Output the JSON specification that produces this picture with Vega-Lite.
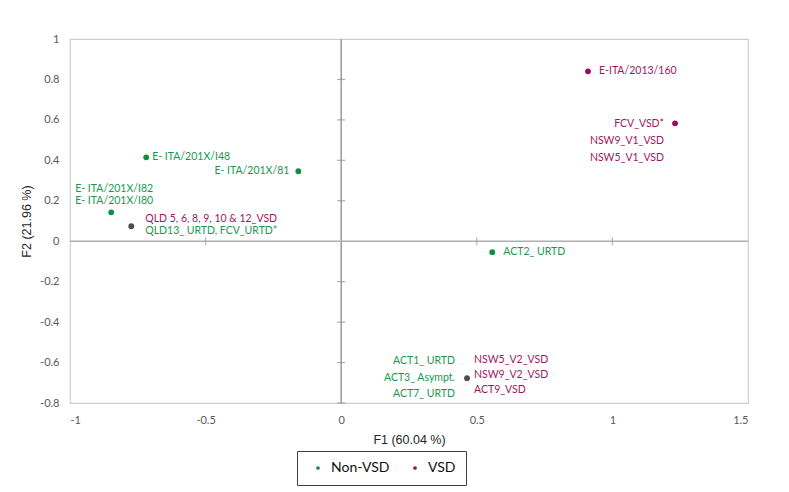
{
  "$schema": "https://vega.github.io/schema/vega-lite/v6.json",
  "width": 678,
  "height": 364,
  "autosize": {"type": "none"},
  "padding": {"left": 70, "top": 39, "right": 41, "bottom": 89},
  "background": "white",
  "config": {
    "view": {"stroke": "#cfcfcf", "strokeWidth": 1.2},
    "axis": {
      "domain": false, "ticks": false, "grid": false,
      "labelFont": "Lato", "labelFontSize": 11, "labelColor": "#595959",
      "titleFont": "Liberation Sans", "titleFontSize": 12.5, "titleFontWeight": "normal", "titleColor": "#262626"
    },
    "text": {"font": "Lato", "fontSize": 10.5, "lineBreak": "\n"}
  },
  "datasets": {
    "pts": [
      {"name": "E- ITA/201X/I48", "x": -0.719, "y": 0.415, "group": "Non-VSD"},
      {"name": "E- ITA/201X/81", "x": -0.158, "y": 0.346, "group": "Non-VSD"},
      {"name": "E- ITA/201X/I82, I80", "x": -0.848, "y": 0.143, "group": "Non-VSD"},
      {"name": "QLD group", "x": -0.774, "y": 0.074, "group": "Mixed"},
      {"name": "E-ITA/2013/160", "x": 0.910, "y": 0.840, "group": "VSD"},
      {"name": "FCV_VSD*", "x": 1.231, "y": 0.583, "group": "VSD"},
      {"name": "ACT2_ URTD", "x": 0.557, "y": -0.054, "group": "Non-VSD"},
      {"name": "ACT/NSW group", "x": 0.464, "y": -0.677, "group": "Mixed"}
    ],
    "lab": [
      {"key": "A", "label": "E- ITA/201X/I48", "x": -0.719, "y": 0.415},
      {"key": "B", "label": "ACT2_ URTD", "x": 0.557, "y": -0.054},
      {"key": "Bm", "label": "E-ITA/2013/160", "x": 0.910, "y": 0.840},
      {"key": "C", "label": "E- ITA/201X/81", "x": -0.158, "y": 0.346},
      {"key": "D", "label": "E- ITA/201X/I82\nE- ITA/201X/I80", "x": -0.848, "y": 0.143},
      {"key": "E1", "label": "QLD 5, 6, 8, 9, 10  & 12_VSD", "x": -0.774, "y": 0.074},
      {"key": "E2", "label": "QLD13_ URTD, FCV_URTD*", "x": -0.774, "y": 0.074},
      {"key": "F", "label": "FCV_VSD*\nNSW9_V1_VSD\nNSW5_V1_VSD", "x": 1.231, "y": 0.583},
      {"key": "G1", "label": "ACT1_ URTD\nACT3_ Asympt.\nACT7_ URTD", "x": 0.464, "y": -0.677},
      {"key": "G2", "label": "NSW5_V2_VSD\nNSW9_V2_VSD\nACT9_VSD", "x": 0.464, "y": -0.677}
    ],
    "yt": [{"v": -0.8}, {"v": -0.6}, {"v": -0.4}, {"v": -0.2}, {"v": 0.2}, {"v": 0.4}, {"v": 0.6}, {"v": 0.8}],
    "xt": [{"v": -0.5}, {"v": 0.5}, {"v": 1}]
  },
  "encoding": {
    "x": {"type": "quantitative", "scale": {"domain": [-1, 1.5], "nice": false, "zero": false}},
    "y": {"type": "quantitative", "scale": {"domain": [-0.8, 1], "nice": false, "zero": false}}
  },
  "layer": [
    {
      "data": {"values": [{}]},
      "mark": {"type": "rule", "color": "#9a9a9a", "strokeWidth": 1.5},
      "encoding": {
        "x": {"datum": 0, "type": "quantitative",
          "axis": {"orient": "bottom", "values": [-1, -0.5, 0, 0.5, 1, 1.5], "labelExpr": "'' + datum.value", "labelPadding": 11, "title": "F1 (60.04 %)", "titlePadding": 8}}
      }
    },
    {
      "data": {"values": [{}]},
      "mark": {"type": "rule", "color": "#b0b0b0", "strokeWidth": 1.5},
      "encoding": {
        "y": {"datum": 0, "type": "quantitative",
          "axis": {"orient": "left", "values": [-0.8, -0.6, -0.4, -0.2, 0, 0.2, 0.4, 0.6, 0.8, 1], "labelExpr": "'' + datum.value", "labelPadding": 11, "title": "F2 (21.96 %)", "titlePadding": 6}}
      }
    },
    {
      "data": {"name": "yt"},
      "mark": {"type": "tick", "orient": "horizontal", "size": 8, "thickness": 1.2, "color": "#8a8a8a"},
      "encoding": {
        "x": {"datum": 0, "type": "quantitative"},
        "y": {"field": "v", "type": "quantitative"}
      }
    },
    {
      "data": {"name": "xt"},
      "mark": {"type": "tick", "orient": "vertical", "size": 8, "thickness": 1.2, "color": "#9a9a9a"},
      "encoding": {
        "x": {"field": "v", "type": "quantitative"},
        "y": {"datum": 0, "type": "quantitative"}
      }
    },
    {
      "data": {"name": "pts"},
      "mark": {"type": "circle", "size": 34, "opacity": 1},
      "encoding": {
        "x": {"field": "x", "type": "quantitative"},
        "y": {"field": "y", "type": "quantitative"},
        "color": {
          "field": "group", "type": "nominal",
          "scale": {"domain": ["Non-VSD", "VSD", "Mixed"], "range": ["#0f8f45", "#9c0c55", "#4e4a55"]},
          "legend": {
            "values": ["Non-VSD", "VSD"], "title": null, "orient": "none", "direction": "horizontal",
            "legendX": 227, "legendY": 412,
            "strokeColor": "#404040", "fillColor": "white", "padding": 10,
            "labelFont": "Lato", "labelFontSize": 14, "labelColor": "#111111",
            "symbolSize": 14, "symbolType": "circle", "labelOffset": 6, "columnPadding": 14, "symbolOffset": 4
          }
        }
      }
    },
    {
      "data": {"name": "lab"},
      "transform": [{"filter": "datum.key === 'A'"}],
      "mark": {"type": "text", "align": "left", "baseline": "middle", "dx": 6, "color": "#17994f"},
      "encoding": {"x": {"field": "x", "type": "quantitative"}, "y": {"field": "y", "type": "quantitative"}, "text": {"field": "label"}}
    },
    {
      "data": {"name": "lab"},
      "transform": [{"filter": "datum.key === 'B'"}],
      "mark": {"type": "text", "align": "left", "baseline": "middle", "dx": 11, "color": "#17994f"},
      "encoding": {"x": {"field": "x", "type": "quantitative"}, "y": {"field": "y", "type": "quantitative"}, "text": {"field": "label"}}
    },
    {
      "data": {"name": "lab"},
      "transform": [{"filter": "datum.key === 'Bm'"}],
      "mark": {"type": "text", "align": "left", "baseline": "middle", "dx": 11, "color": "#a3165f"},
      "encoding": {"x": {"field": "x", "type": "quantitative"}, "y": {"field": "y", "type": "quantitative"}, "text": {"field": "label"}}
    },
    {
      "data": {"name": "lab"},
      "transform": [{"filter": "datum.key === 'C'"}],
      "mark": {"type": "text", "align": "right", "baseline": "middle", "dx": -9, "color": "#17994f"},
      "encoding": {"x": {"field": "x", "type": "quantitative"}, "y": {"field": "y", "type": "quantitative"}, "text": {"field": "label"}}
    },
    {
      "data": {"name": "lab"},
      "transform": [{"filter": "datum.key === 'D'"}],
      "mark": {"type": "text", "align": "left", "baseline": "bottom", "dx": -36, "dy": -18, "lineHeight": 12, "color": "#17994f"},
      "encoding": {"x": {"field": "x", "type": "quantitative"}, "y": {"field": "y", "type": "quantitative"}, "text": {"field": "label"}}
    },
    {
      "data": {"name": "lab"},
      "transform": [{"filter": "datum.key === 'E1'"}],
      "mark": {"type": "text", "align": "left", "baseline": "middle", "dx": 14, "dy": -7, "color": "#a3165f"},
      "encoding": {"x": {"field": "x", "type": "quantitative"}, "y": {"field": "y", "type": "quantitative"}, "text": {"field": "label"}}
    },
    {
      "data": {"name": "lab"},
      "transform": [{"filter": "datum.key === 'E2'"}],
      "mark": {"type": "text", "align": "left", "baseline": "middle", "dx": 14, "dy": 5, "color": "#17994f"},
      "encoding": {"x": {"field": "x", "type": "quantitative"}, "y": {"field": "y", "type": "quantitative"}, "text": {"field": "label"}}
    },
    {
      "data": {"name": "lab"},
      "transform": [{"filter": "datum.key === 'F'"}],
      "mark": {"type": "text", "align": "right", "baseline": "top", "dx": -11, "dy": -4, "lineHeight": 17, "color": "#a3165f"},
      "encoding": {"x": {"field": "x", "type": "quantitative"}, "y": {"field": "y", "type": "quantitative"}, "text": {"field": "label"}}
    },
    {
      "data": {"name": "lab"},
      "transform": [{"filter": "datum.key === 'G1'"}],
      "mark": {"type": "text", "align": "right", "baseline": "middle", "dx": -12, "dy": -17, "lineHeight": 16.5, "color": "#17994f"},
      "encoding": {"x": {"field": "x", "type": "quantitative"}, "y": {"field": "y", "type": "quantitative"}, "text": {"field": "label"}}
    },
    {
      "data": {"name": "lab"},
      "transform": [{"filter": "datum.key === 'G2'"}],
      "mark": {"type": "text", "align": "left", "baseline": "middle", "dx": 7, "dy": -18, "lineHeight": 15, "color": "#a3165f"},
      "encoding": {"x": {"field": "x", "type": "quantitative"}, "y": {"field": "y", "type": "quantitative"}, "text": {"field": "label"}}
    }
  ]
}
